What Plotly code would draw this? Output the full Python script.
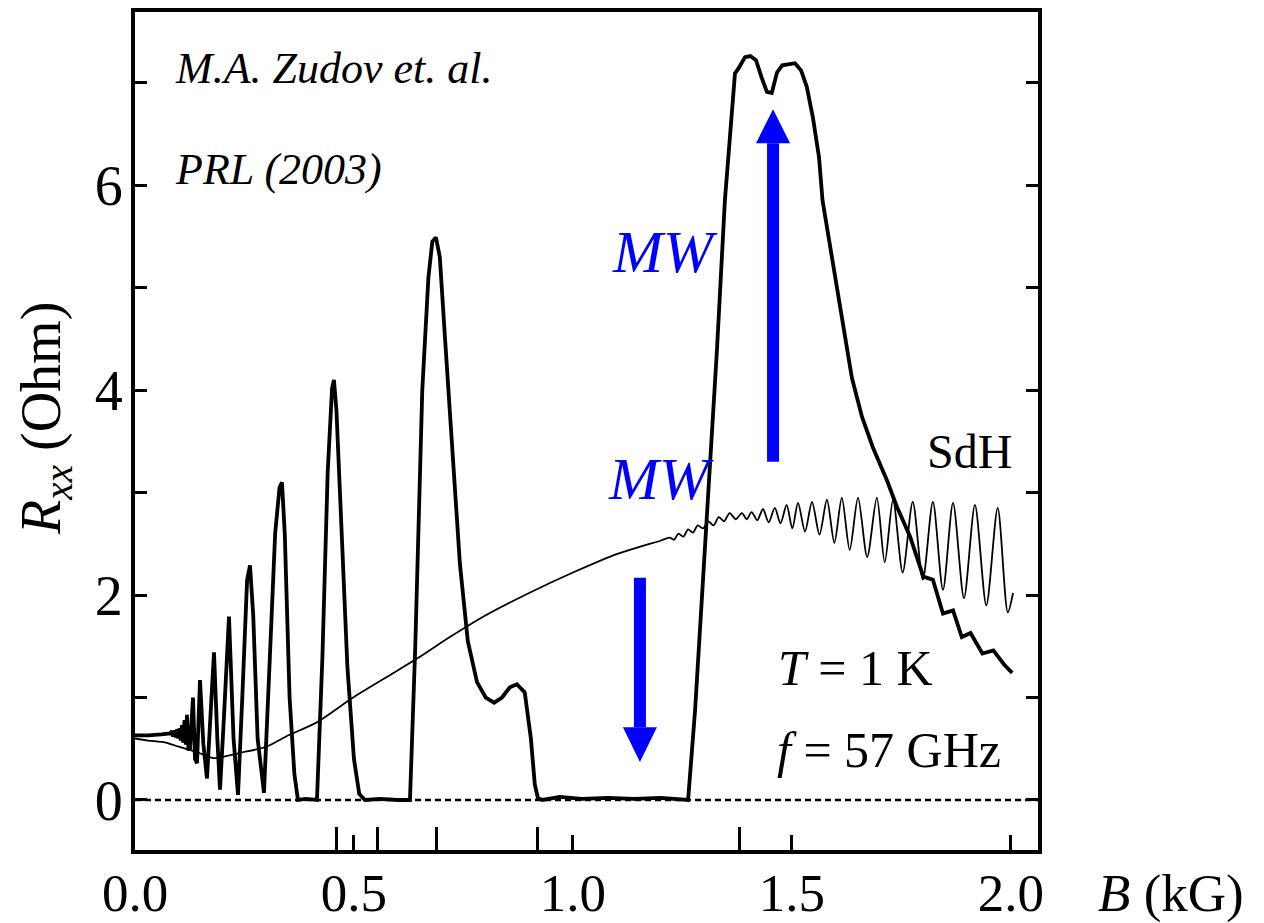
import plotly.graph_objects as go

# ---------------- data ----------------
# MW-irradiated R_xx (thick curve): B in kG, R in Ohm
mw_B = [0.000, 0.030, 0.060, 0.080, 0.084, 0.087, 0.090, 0.093, 0.096, 0.099, 0.102,
        0.1045, 0.1073, 0.1100, 0.1130, 0.1160, 0.1187, 0.1220,
        0.1256, 0.1324, 0.1370, 0.1416, 0.1484, 0.1560, 0.1644, 0.1720, 0.1804, 0.1880,
        0.1941, 0.2030, 0.2146, 0.2250, 0.2352, 0.2450, 0.2560, 0.2626, 0.2700, 0.2800,
        0.2945, 0.3080, 0.3200, 0.3300, 0.3356, 0.3420, 0.3530, 0.3640, 0.3721, 0.3900,
        0.4155, 0.4280, 0.4400, 0.4500, 0.4543, 0.4600, 0.4720, 0.4850, 0.5000, 0.5120,
        0.5251, 0.5600, 0.6000, 0.6279, 0.6400, 0.6560, 0.6700, 0.6790, 0.6872, 0.6960,
        0.7080, 0.7240, 0.7420, 0.7600, 0.7810, 0.8010, 0.8200, 0.8380, 0.8560, 0.8720,
        0.8900, 0.9040, 0.9130, 0.9200, 0.9300, 0.9700, 1.0200, 1.0800, 1.1400, 1.2000,
        1.2400, 1.2630, 1.2790, 1.3080, 1.3290, 1.3470, 1.3700, 1.3780, 1.3930, 1.4050,
        1.4180, 1.4310, 1.4430, 1.4540, 1.4660, 1.4780, 1.4950, 1.5070, 1.5210, 1.5340,
        1.5480, 1.5620, 1.5700, 1.5910, 1.6140, 1.6370, 1.6600, 1.6850, 1.7170, 1.7400,
        1.7700, 1.8000, 1.8220, 1.8450, 1.8680, 1.8880, 1.9080, 1.9350, 1.9600, 1.9850,
        2.0030]
mw_R = [0.63, 0.63, 0.64, 0.65, 0.67, 0.62, 0.68, 0.61, 0.69, 0.60, 0.70,
        0.58, 0.73, 0.56, 0.78, 0.54, 0.83, 0.50,
        0.50, 1.00, 0.40, 0.36, 1.17, 0.55, 0.21, 0.80, 1.44, 0.60,
        0.10, 0.80, 1.79, 0.60, 0.05, 1.00, 2.15, 2.29, 1.80, 0.60,
        0.07, 1.40, 2.60, 3.05, 3.10, 2.60, 1.00, 0.25, 0.00, 0.01,
        0.00, 1.40, 3.20, 4.02, 4.10, 3.80, 2.60, 1.30, 0.40, 0.06,
        0.00, 0.01, 0.00, 0.00, 1.50, 4.00, 5.10, 5.45, 5.49, 5.30,
        4.50, 3.40, 2.30, 1.55, 1.15, 1.00, 0.95, 1.00, 1.10, 1.13,
        1.05, 0.60, 0.15, 0.02, 0.00, 0.03, 0.01, 0.02, 0.01, 0.02,
        0.01, 0.00, 0.88, 2.93, 4.40, 5.85, 7.09, 7.14, 7.25, 7.26,
        7.22, 7.05, 6.91, 6.90, 7.10, 7.17, 7.18, 7.19, 7.12, 6.96,
        6.66, 6.27, 5.85, 5.30, 4.70, 4.12, 3.74, 3.44, 3.12, 2.86,
        2.57, 2.18, 2.15, 1.82, 1.85, 1.59, 1.63, 1.43, 1.46, 1.32,
        1.24]

# dark SdH trace (thin curve)
sdh_B = [0.000, 0.030, 0.070, 0.100, 0.140, 0.178, 0.210, 0.240, 0.300, 0.345, 0.416,
         0.498, 0.575, 0.644, 0.719, 0.800, 0.900, 1.000, 1.100, 1.160, 1.200, 1.221,
         1.231, 1.241, 1.252, 1.263, 1.274, 1.285, 1.297, 1.309, 1.321, 1.333, 1.345,
         1.358, 1.372, 1.386, 1.397, 1.408, 1.421, 1.434, 1.447, 1.461, 1.474, 1.488,
         1.501, 1.514, 1.530, 1.546, 1.563, 1.580, 1.597, 1.614, 1.632, 1.651, 1.672,
         1.694, 1.712, 1.731, 1.753, 1.776, 1.799, 1.822, 1.845, 1.868, 1.893, 1.918,
         1.944, 1.970, 1.993, 2.005]
sdh_R = [0.60, 0.58, 0.56, 0.52, 0.47, 0.41, 0.43, 0.46, 0.52, 0.62, 0.76,
         1.00, 1.20, 1.38, 1.59, 1.80, 2.02, 2.22, 2.40, 2.48, 2.53, 2.56,
         2.54, 2.60, 2.57, 2.64, 2.61, 2.68, 2.65, 2.72, 2.68, 2.76, 2.72,
         2.80, 2.74, 2.80, 2.74, 2.81, 2.73, 2.84, 2.71, 2.85, 2.70, 2.88,
         2.65, 2.90, 2.62, 2.91, 2.59, 2.93, 2.51, 2.95, 2.44, 2.95, 2.37,
         2.95, 2.32, 2.93, 2.22, 2.91, 2.15, 2.91, 2.05, 2.90, 1.97, 2.88,
         1.90, 2.85, 1.83, 2.02]

# axis ticks
x_ticks = [0.0, 0.5, 1.0, 1.5, 2.0]
x_ticktext = ["0.0", "0.5", "1.0", "1.5", "2.0"]
eps_ticks = [0.459, 0.553, 0.689, 0.920, 1.381]   # long marker ticks (omega/omega_c)
y_ticks = [0, 2, 4, 6]
y_ticktext = ["0", "2", "4", "6"]
y_minor_ticks = [1, 3, 5, 7]

# arrows (B, R_tail, R_head_base, R_tip)
up_arrow = (1.457, 3.30, 6.41, 6.74)
down_arrow = (1.153, 2.17, 0.71, 0.37)

SERIF = "Liberation Serif"
BLUE = "#0000ff"

fig = go.Figure()
fig.add_trace(go.Scatter(x=sdh_B, y=sdh_R, mode="lines",
                         line=dict(color="black", width=1.8, shape="spline", smoothing=0.8),
                         hoverinfo="skip", showlegend=False))
fig.add_trace(go.Scatter(x=mw_B, y=mw_R, mode="lines",
                         line=dict(color="black", width=3.8),
                         hoverinfo="skip", showlegend=False))

# dashed zero line
fig.add_shape(type="line", xref="paper", yref="y", x0=0, x1=1, y0=0, y1=0,
              line=dict(color="black", width=2.5, dash="6px,4px"))

# blue arrows: shaft + triangular head
hw = 0.0388
for (xa, r_tail, r_base, r_tip) in [up_arrow, down_arrow]:
    fig.add_shape(type="line", xref="x", yref="y", x0=xa, x1=xa, y0=r_tail, y1=r_base,
                  line=dict(color=BLUE, width=12))
    fig.add_shape(type="path", xref="x", yref="y",
                  path=f"M {xa-hw},{r_base} L {xa+hw},{r_base} L {xa},{r_tip} Z",
                  fillcolor=BLUE, line=dict(color=BLUE, width=0))

ann = []
def txt(x, y, text, size, color="black", xanchor="center", xref="x", yref="y", angle=0):
    ann.append(dict(x=x, y=y, xref=xref, yref=yref, text=text, showarrow=False,
                    xanchor=xanchor, yanchor="middle", textangle=angle,
                    font=dict(family=SERIF, size=size, color=color)))

txt(0.0868, 7.14, "<i>M.A. Zudov et. al.</i>", 44, xanchor="left")
txt(0.0868, 6.15, "<i>PRL (2003)</i>", 44, xanchor="left")
txt(1.210, 5.35, "<i>MW</i>", 60, color=BLUE)
txt(1.201, 3.13, "<i>MW</i>", 60, color=BLUE)
txt(1.906, 3.40, "SdH", 48)
txt(1.646, 1.29, "<i>T</i> = 1 K", 50)
txt(1.721, 0.49, "<i>f</i> = 57 GHz", 50)
txt(-0.0997, 0.5155, "<i>R</i><sub><i>xx</i></sub> (Ohm)", 56, xref="paper", yref="paper", angle=-90)
txt(1.147, -0.052, "<i>B</i> (kG)", 53, xref="paper", yref="paper")

fig.update_layout(
    width=1264, height=923,
    margin=dict(l=135, r=226, t=12, b=73, pad=0),
    paper_bgcolor="white", plot_bgcolor="white",
    annotations=ann,
    font=dict(family=SERIF, color="black"),
    xaxis=dict(range=[0, 2.062], showgrid=False, zeroline=False, automargin=False,
               showline=True, linecolor="black", linewidth=4, mirror=True,
               tickmode="array", tickvals=x_ticks, ticktext=x_ticktext,
               ticks="inside", ticklen=15, tickwidth=3, tickcolor="black",
               tickfont=dict(family=SERIF, size=53, color="black"),
               ticklabelstandoff=-7,
               minor=dict(tickmode="array", tickvals=eps_ticks, ticks="inside",
                          ticklen=23, tickwidth=3, tickcolor="black", showgrid=False)),
    yaxis=dict(range=[-0.488, 7.69], showgrid=False, zeroline=False, automargin=False,
               showline=True, linecolor="black", linewidth=4, mirror="ticks",
               tickmode="array", tickvals=y_ticks, ticktext=y_ticktext,
               ticks="inside", ticklen=12, tickwidth=3, tickcolor="black",
               tickfont=dict(family=SERIF, size=56, color="black"),
               ticklabelstandoff=-3,
               minor=dict(tickmode="array", tickvals=y_minor_ticks, ticks="inside",
                          ticklen=12, tickwidth=3, tickcolor="black", showgrid=False)),
)

fig.write_html("out.html")
